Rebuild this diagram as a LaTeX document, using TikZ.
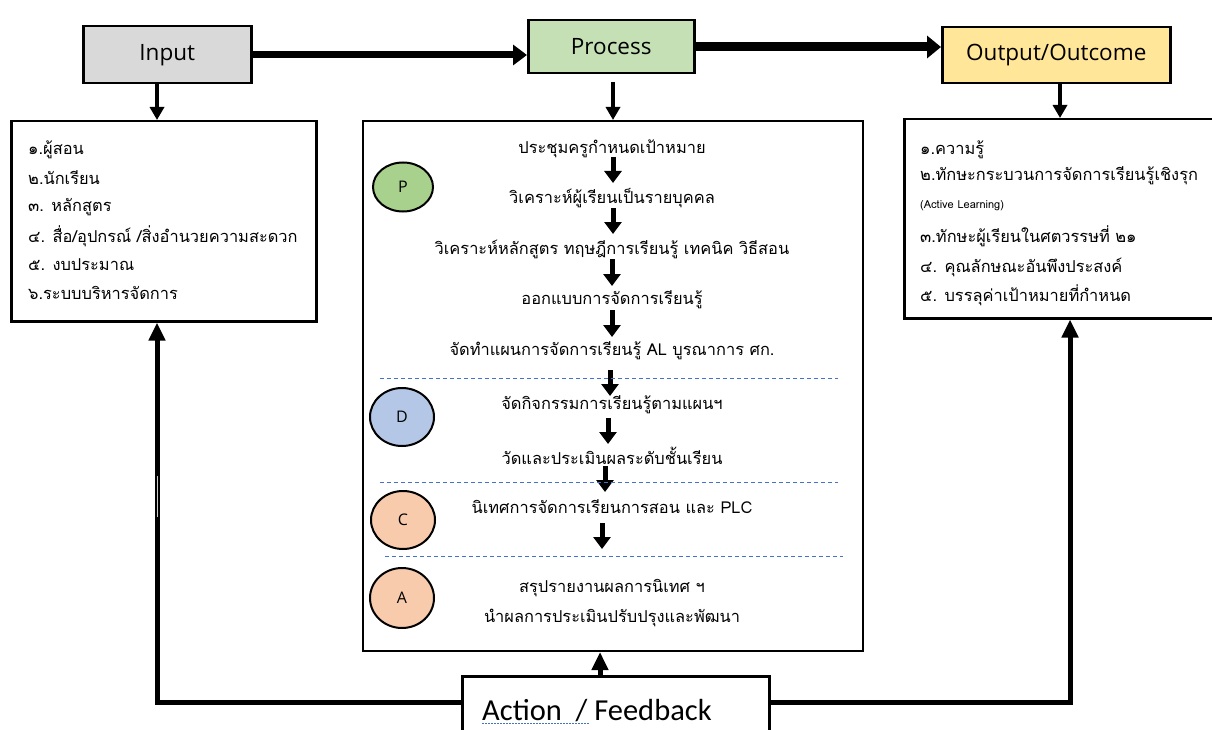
\documentclass[tikz,border=0pt]{standalone}
\usepackage{fontspec}
\usetikzlibrary{arrows.meta,shapes.geometric}
\newfontfamily\thai[Script=Thai]{Loma}
\newfontfamily\labf{Open Sans}
\newfontfamily\fbf{Carlito}
\definecolor{ingray}{HTML}{D9D9D9}
\definecolor{procgreen}{HTML}{C5E0B4}
\definecolor{outyellow}{HTML}{FFE699}
\definecolor{pgreen}{HTML}{A9D18E}
\definecolor{dblue}{HTML}{B4C7E7}
\definecolor{cpeach}{HTML}{F8CBAD}
\definecolor{dashblue}{HTML}{4472C4}
\begin{document}
\begin{tikzpicture}[x=1pt,y=-1pt,
  topbox/.style={draw, line width=2.5pt, anchor=north west, inner sep=0pt, font=\labf\fontsize{22.5}{26}\selectfont},
  listbox/.style={draw, line width=2.5pt, anchor=north west, inner sep=0pt},
  midbox/.style={draw, line width=2pt, anchor=north west, inner sep=0pt},
  item/.style={anchor=west, inner sep=0pt, font=\thai\fontsize{16.4}{19}\selectfont},
  stage/.style={anchor=center, inner sep=0pt, font=\thai\fontsize{16.4}{19}\selectfont},
  phase/.style={draw, line width=2pt, ellipse, inner sep=0pt, font=\labf\fontsize{16}{18}\selectfont},
  flow/.style={line width=5pt, -{Triangle[width=17pt,length=12pt]}},
  downarrow/.style={line width=4pt, -{Triangle[width=14pt,length=13pt]}},
  sep/.style={dashblue, line width=1pt, dash pattern=on 4pt off 3pt},
  fbline/.style={line width=5pt},
  fbup/.style={line width=5pt, -{Triangle[width=16pt,length=18pt]}}
]
\useasboundingbox (0,0) rectangle (1212,730);
\fill[white] (0,0) rectangle (1212,730);

% top boxes
\node[topbox, fill=ingray, minimum width=168pt, minimum height=57pt] (input) at (82,25) {Input};
\node[topbox, fill=procgreen, minimum width=166pt, minimum height=53pt] (process) at (527,19) {Process};
\node[topbox, fill=outyellow, minimum width=228pt, minimum height=56pt] (output) at (941,26) {Output/Outcome};

\draw[line width=7pt, -{Triangle[width=20pt,length=14pt]}] (input.east |- 0,55) -- (process.west |- 0,55);
\draw[line width=9pt, -{Triangle[width=22pt,length=14pt]}] (process.east |- 0,47) -- (output.west |- 0,47);

% content boxes
\node[listbox, minimum width=305pt, minimum height=200pt] (lbox) at (10,120) {};
\node[midbox, minimum width=500pt, minimum height=530pt] (mbox) at (362,120) {};
\node[listbox, minimum width=310pt, minimum height=199pt] (rbox) at (903,118) {};

\draw[downarrow] (157,83) -- (lbox.north -| 157,0);
\draw[downarrow] (613,82) -- (mbox.north -| 613,0);
\draw[downarrow] (1060,83) -- (rbox.north -| 1060,0);

% input list
\node[item] (l1) at (28,150) {๑.ผู้สอน};
\node[item] (l2) at (28,178) {๒.นักเรียน};
\node[item] (l3) at (28,207) {๓. หลักสูตร};
\node[item] (l4) at (28,236) {๔. สื่อ/อุปกรณ์ /สิ่งอำนวยความสะดวก};
\node[item] (l5) at (28,265) {๕. งบประมาณ};
\node[item] (l6) at (28,293) {๖.ระบบบริหารจัดการ};

% output list
\node[item] (r1) at (920,150) {๑.ความรู้};
\node[item] (r2) at (920,176) {๒.ทักษะกระบวนการจัดการเรียนรู้เชิงรุก};
\node[item, font=\thai\fontsize{11}{13}\selectfont] (r3) at (920,206) {(Active Learning)};
\node[item] (r4) at (920,236) {๓.ทักษะผู้เรียนในศตวรรษที่ ๒๑};
\node[item] (r5) at (920,267) {๔. คุณลักษณะอันพึงประสงค์};
\node[item] (r6) at (920,295) {๕. บรรลุค่าเป้าหมายที่กำหนด};

% process steps
\node[stage] (m1) at (612,149) {ประชุมครูกำหนดเป้าหมาย};
\node[stage] (m2) at (612,198) {วิเคราะห์ผู้เรียนเป็นรายบุคคล};
\node[stage] (m3) at (612,249) {วิเคราะห์หลักสูตร ทฤษฎีการเรียนรู้ เทคนิค วิธีสอน};
\node[stage] (m4) at (612,300) {ออกแบบการจัดการเรียนรู้};
\node[stage] (m5) at (612,351) {จัดทำแผนการจัดการเรียนรู้ AL บูรณาการ ศก.};
\node[stage] (m6) at (612,405) {จัดกิจกรรมการเรียนรู้ตามแผนฯ};
\node[stage] (m7) at (612,456) {วัดและประเมินผลระดับชั้นเรียน};
\node[stage] (m8) at (612,507) {นิเทศการจัดการเรียนการสอน และ PLC};
\node[stage] (m9) at (612,588) {สรุปรายงานผลการนิเทศ ฯ};
\node[stage] (m10) at (612,618) {นำผลการประเมินปรับปรุงและพัฒนา};

\draw[flow] (613,157) -- (613,183);
\draw[flow] (613,208) -- (613,234);
\draw[flow] (612,259) -- (612,286);
\draw[flow] (612,310) -- (612,337);
\draw[flow] (610,370) -- (610,396);
\draw[flow] (608,418) -- (608,444);
\draw[flow] (605,466) -- (605,492);
\draw[flow] (602,523) -- (602,549);

\draw[sep] (380,378) -- (838,378);
\draw[sep] (380,482) -- (838,482);
\draw[sep] (385,556) -- (843,556);

% PDCA circles
\node[phase, fill=pgreen, minimum width=60pt, minimum height=49pt] (P) at (403,187) {P};
\node[phase, fill=dblue, minimum width=64pt, minimum height=58pt] (D) at (402,417) {D};
\node[phase, fill=cpeach, minimum width=64pt, minimum height=58pt] (C) at (403,520) {C};
\node[phase, fill=cpeach, minimum width=64pt, minimum height=60pt] (A) at (402,598) {A};

% feedback
\node[draw, line width=2.5pt, anchor=north west, minimum width=307pt, minimum height=80pt, inner sep=0pt] (fb) at (461,675) {};
\node[anchor=base west, inner sep=0pt, font=\fbf\fontsize{30.5}{34}\selectfont] (fbt) at (482,720) {Action\ \ / Feedback};
\draw[dashblue, line width=1pt, dash pattern=on 1.5pt off 1.5pt] (482,723) -- (590,723);

\draw[fbup] (fb.north -| 600,0) -- (mbox.south -| 600,0);
\draw[fbline] (fb.west |- 0,702) -| (157,335);
\draw[fbup] (157,335) -- (lbox.south -| 157,0);
\draw[fbline] (fb.east |- 0,702) -| (1070,335);
\draw[fbup] (1070,335) -- (rbox.south -| 1070,0);
\draw[gray!40, line width=0.8pt] (157,476) -- (157,517);
\end{tikzpicture}
\end{document}
